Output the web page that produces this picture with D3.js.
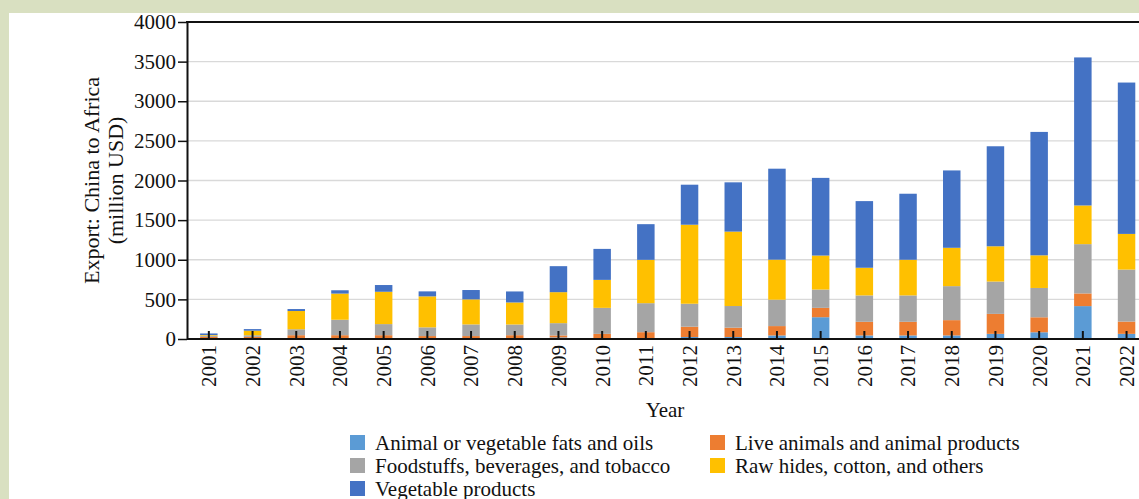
<!DOCTYPE html>
<html>
<head>
<meta charset="utf-8">
<script src="https://cdn.jsdelivr.net/npm/d3@7"></script>
<style>
  html, body { margin: 0; padding: 0; background: #d9e0c1; }
  svg { display: block; }
  text { font-family: "Liberation Serif", "Times New Roman", serif; fill: #111; }
</style>
</head>
<body>
<svg id="chart" width="1139" height="499"></svg>
<script>
// Agricultural exports from China to Africa, million USD, by product group
const years = ["2001","2002","2003","2004","2005","2006","2007","2008","2009","2010","2011",
               "2012","2013","2014","2015","2016","2017","2018","2019","2020","2021","2022"];
const fatsOils    = [2, 2, 3, 3, 3, 2, 2, 3, 20, 10, 10, 25, 25, 45, 275, 45, 45, 45, 65, 85, 415, 65];
const liveAnimals = [25, 25, 45, 45, 45, 35, 35, 45, 25, 55, 76, 130, 118, 118, 118, 172, 172, 193, 252, 189, 160, 155];
const foodstuffs  = [15, 20, 75, 195, 140, 110, 147, 135, 155, 328, 366, 290, 273, 333, 231, 333, 333, 429, 408, 370, 622, 656];
const rawHides    = [8, 58, 230, 330, 408, 391, 316, 278, 391, 353, 547, 997, 939, 505, 429, 349, 450, 484, 445, 412, 488, 450];
const vegetable   = [20, 20, 25, 42, 85, 63, 118, 139, 328, 391, 450, 505, 622, 1148, 980, 841, 833, 976, 1262, 1557, 1868, 1910];
const yTicks = [0, 500, 1000, 1500, 2000, 2500, 3000, 3500, 4000];

const seriesKeys = ["fats", "live", "food", "raw", "veg"];
const seriesNames = {
  fats: "Animal or vegetable fats and oils",
  live: "Live animals and animal products",
  food: "Foodstuffs, beverages, and tobacco",
  raw: "Raw hides, cotton, and others",
  veg: "Vegetable products"
};
const colors = { fats: "#5b9bd5", live: "#ed7d31", food: "#a5a5a5", raw: "#ffc000", veg: "#4472c4" };

const rows = years.map((y, i) => ({
  year: y, fats: fatsOils[i], live: liveAnimals[i], food: foodstuffs[i], raw: rawHides[i], veg: vegetable[i]
}));

const svg = d3.select("#chart");
const W = 1139, H = 499;
const FS = 21;

// panel
svg.append("rect").attr("x", 0).attr("y", 0).attr("width", W).attr("height", H).attr("fill", "#d9e0c1");
svg.append("rect").attr("x", 9).attr("y", 13).attr("width", W - 9).attr("height", H - 13).attr("fill", "#fff");

const plotLeft = 187, plotTop = 22, plotBottom = 339;
const step = 43.7;

const x = d3.scaleBand()
  .domain(years)
  .range([plotLeft, plotLeft + step * years.length])
  .paddingInner(0.6)
  .paddingOuter(0.3);

const y = d3.scaleLinear().domain([0, 4000]).range([plotBottom, plotTop]);

// gridlines
svg.append("g")
  .selectAll("line")
  .data(yTicks.filter(t => t > 0 && t < 4000))
  .join("line")
  .attr("x1", plotLeft).attr("x2", W)
  .attr("y1", d => y(d)).attr("y2", d => y(d))
  .attr("stroke", "#d9d9d9").attr("stroke-width", 1.3);

// stacked bars
const stacked = d3.stack().keys(seriesKeys)(rows);
svg.append("g")
  .selectAll("g")
  .data(stacked)
  .join("g")
  .attr("fill", d => colors[d.key])
  .selectAll("rect")
  .data(d => d)
  .join("rect")
  .attr("x", d => x(d.data.year))
  .attr("width", x.bandwidth())
  .attr("y", d => y(d[1]))
  .attr("height", d => y(d[0]) - y(d[1]));

// y axis
const yAxis = svg.append("g")
  .attr("transform", `translate(${plotLeft},0)`)
  .call(d3.axisLeft(y).tickValues(yTicks).tickFormat(d3.format("d"))
    .tickSize(9).tickPadding(2).tickSizeOuter(0));
yAxis.select(".domain").attr("stroke", "#111").attr("stroke-width", 2);
yAxis.selectAll(".tick line").attr("stroke", "#111").attr("stroke-width", 1.5);
yAxis.selectAll(".tick text")
  .attr("font-family", "Liberation Serif, serif").attr("font-size", FS).attr("fill", "#111");

// top border of plot
svg.append("line")
  .attr("x1", plotLeft - 1).attr("x2", W)
  .attr("y1", plotTop).attr("y2", plotTop)
  .attr("stroke", "#111").attr("stroke-width", 2.2);

// x axis, ticks pointing into the plot
const xAxis = svg.append("g")
  .attr("transform", `translate(0,${plotBottom})`)
  .call(d3.axisBottom(x).tickSize(-8).tickPadding(6).tickSizeOuter(0));
xAxis.select(".domain").attr("stroke", "#111").attr("stroke-width", 1.8)
  .attr("d", `M${plotLeft},0H${W}`);
xAxis.selectAll(".tick line").attr("stroke", "#111").attr("stroke-width", 2);
xAxis.selectAll(".tick text")
  .attr("font-family", "Liberation Serif, serif").attr("font-size", FS).attr("fill", "#111")
  .attr("transform", "rotate(-90)")
  .attr("text-anchor", "end")
  .attr("x", -6).attr("y", 0).attr("dy", "0.35em");

// axis titles
const yTitle = svg.append("text")
  .attr("transform", `translate(91,${(plotTop + plotBottom) / 2}) rotate(-90)`)
  .attr("text-anchor", "middle")
  .attr("font-size", 22);
yTitle.append("tspan").attr("x", 0).attr("dy", "0.35em").text("Export: China to Africa");
yTitle.append("tspan").attr("x", 0).attr("dy", 24).text("(million USD)");

svg.append("text")
  .attr("x", 665).attr("y", 410).attr("dy", "0.35em")
  .attr("text-anchor", "middle").attr("font-size", FS)
  .text("Year");

// legend
const legendItems = [
  { key: "fats", col: 0, row: 0 },
  { key: "live", col: 1, row: 0 },
  { key: "food", col: 0, row: 1 },
  { key: "raw", col: 1, row: 1 },
  { key: "veg", col: 0, row: 2 }
];
const colX = [350, 710], rowY = [443, 466, 489];
const legend = svg.append("g")
  .selectAll("g")
  .data(legendItems)
  .join("g")
  .attr("transform", d => `translate(${colX[d.col]},${rowY[d.row]})`);
legend.append("rect")
  .attr("x", 0).attr("y", -8).attr("width", 15).attr("height", 15)
  .attr("fill", d => colors[d.key]);
legend.append("text")
  .attr("x", 25).attr("y", 0).attr("dy", "0.33em")
  .attr("font-size", FS)
  .text(d => seriesNames[d.key]);
</script>
</body>
</html>
